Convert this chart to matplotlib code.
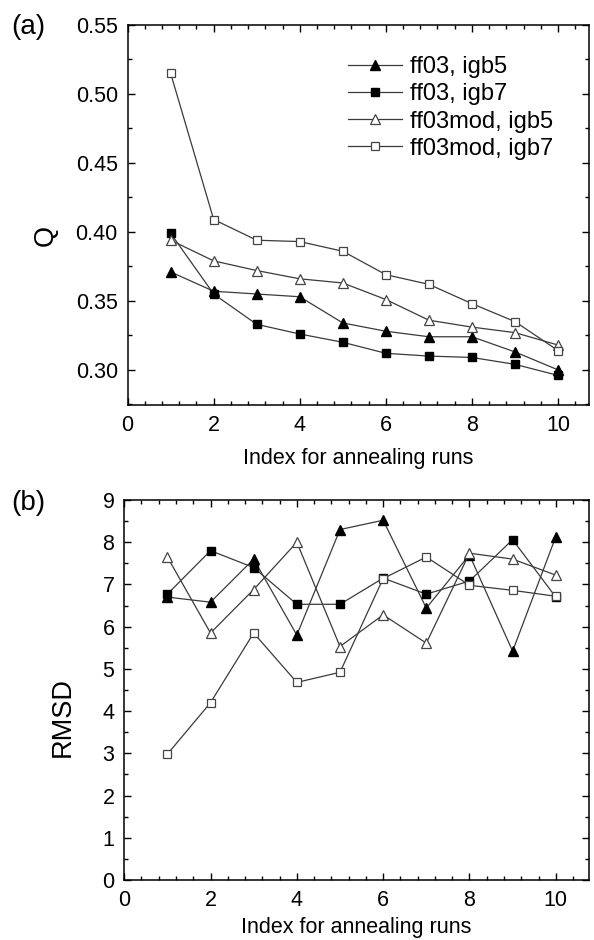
import matplotlib
matplotlib.use('Agg')
import matplotlib.pyplot as plt
from matplotlib.ticker import MultipleLocator

plt.rcParams['font.family'] = ['Liberation Sans', 'DejaVu Sans']

runs = [1, 2, 3, 4, 5, 6, 7, 8, 9, 10]
labels = ['ff03, igb5', 'ff03, igb7', 'ff03mod, igb5', 'ff03mod, igb7']

# panel (a): Q
q_ff03_igb5 = [0.371, 0.357, 0.355, 0.353, 0.334, 0.328, 0.324, 0.324, 0.313, 0.300]
q_ff03_igb7 = [0.399, 0.355, 0.333, 0.326, 0.320, 0.312, 0.310, 0.309, 0.304, 0.296]
q_mod_igb5 = [0.394, 0.379, 0.372, 0.366, 0.363, 0.351, 0.336, 0.331, 0.327, 0.318]
q_mod_igb7 = [0.515, 0.409, 0.394, 0.393, 0.386, 0.369, 0.362, 0.348, 0.335, 0.314]

# panel (b): RMSD
r_ff03_igb5 = [6.70, 6.58, 7.60, 5.80, 8.30, 8.52, 6.44, 7.70, 5.42, 8.13]
r_ff03_igb7 = [6.77, 7.80, 7.40, 6.53, 6.53, 7.15, 6.77, 7.08, 8.06, 6.70]
r_mod_igb5 = [7.65, 5.85, 6.88, 8.00, 5.53, 6.28, 5.61, 7.74, 7.60, 7.22]
r_mod_igb7 = [2.98, 4.20, 5.85, 4.68, 4.92, 7.14, 7.65, 6.98, 6.86, 6.72]

line_col = '#3a3a3a'
styles = [
    dict(marker='^', ms=6.5, mfc='black', mec='black'),
    dict(marker='s', ms=5.5, mfc='black', mec='black'),
    dict(marker='^', ms=6.5, mfc='white', mec='#444444', mew=0.9),
    dict(marker='s', ms=5.5, mfc='white', mec='#444444', mew=0.9),
]

fig = plt.figure(figsize=(5.94, 9.40), dpi=100)
ax1 = fig.add_axes([0.2148, 0.5691, 0.7768, 0.4043])
ax2 = fig.add_axes([0.2091, 0.0638, 0.7825, 0.4043])


def style_axis(ax):
    ax.tick_params(which='both', direction='in', top=True, right=True,
                   labelsize=15.5, width=1.0)
    ax.tick_params(which='major', length=5, pad=7)
    ax.tick_params(which='minor', length=3)
    for s in ax.spines.values():
        s.set_linewidth(1.1)
    ax.xaxis.set_major_locator(MultipleLocator(2))
    ax.xaxis.set_minor_locator(MultipleLocator(0.4))


for ys, st, lab in zip([q_ff03_igb5, q_ff03_igb7, q_mod_igb5, q_mod_igb7], styles, labels):
    ax1.plot(runs, ys, color=line_col, lw=0.9, label=lab, **st)

ax1.set_xlim(0, 10.72)
ax1.set_ylim(0.2745, 0.55)
ax1.yaxis.set_major_locator(MultipleLocator(0.05))
ax1.yaxis.set_minor_locator(MultipleLocator(0.025))
ax1.yaxis.set_major_formatter(plt.FormatStrFormatter('%.2f'))
style_axis(ax1)
ax1.set_ylabel('Q', fontsize=19.5)
ax1.yaxis.set_label_coords(-0.15, 0.447)
ax1.set_xlabel('Index for annealing runs', fontsize=15.5)
ax1.xaxis.set_label_coords(0.5, -0.113)
ax1.legend(loc='upper left', bbox_to_anchor=(0.478, 0.918), frameon=False,
           fontsize=17, handlelength=2.3, handletextpad=0.3, labelspacing=0.22,
           borderpad=0, borderaxespad=0)

for ys, st in zip([r_ff03_igb5, r_ff03_igb7, r_mod_igb5, r_mod_igb7], styles):
    ax2.plot(runs, ys, color=line_col, lw=0.9, **st)

ax2.set_xlim(0, 10.77)
ax2.set_ylim(0, 9)
ax2.yaxis.set_major_locator(MultipleLocator(1))
ax2.yaxis.set_minor_locator(MultipleLocator(0.5))
style_axis(ax2)
ax2.set_ylabel('RMSD', fontsize=19.5)
ax2.yaxis.set_label_coords(-0.104, 0.429)
ax2.set_xlabel('Index for annealing runs', fontsize=15.5)
ax2.xaxis.set_label_coords(0.5, -0.096)

fig.text(28 / 594, 1 - 27 / 940, '(a)', fontsize=20, ha='center', va='center')
fig.text(28 / 594, 1 - 503 / 940, '(b)', fontsize=20, ha='center', va='center')

fig.savefig('out.png', dpi=100)
